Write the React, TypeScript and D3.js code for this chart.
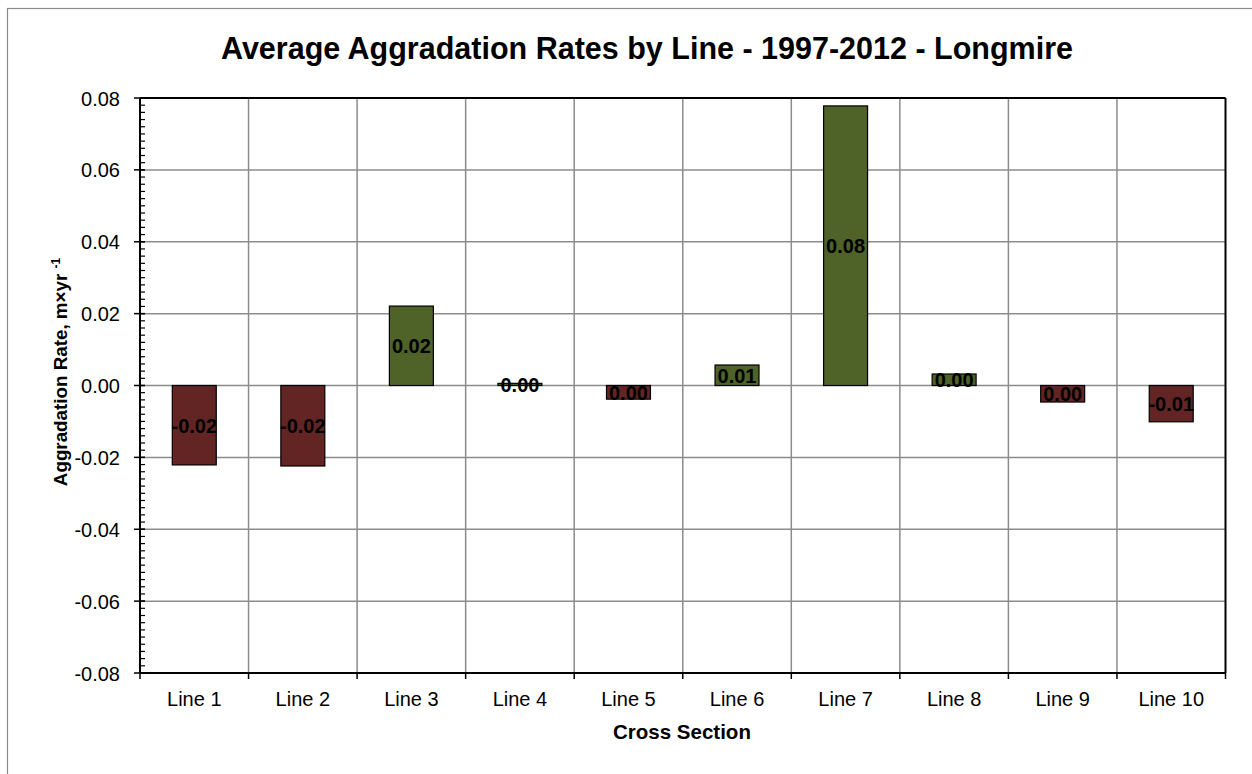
import React, { useEffect, useRef } from "react";
import * as d3 from "d3";

const categories = ["Line 1", "Line 2", "Line 3", "Line 4", "Line 5", "Line 6", "Line 7", "Line 8", "Line 9", "Line 10"];
const values = [-0.0221, -0.0224, 0.0221, 0.0006, -0.0038, 0.0057, 0.0778, 0.0032, -0.0046, -0.0101];
const valueLabels = ["-0.02", "-0.02", "0.02", "0.00", "0.00", "0.01", "0.08", "0.00", "0.00", "-0.01"];
const yTicks = [-0.08, -0.06, -0.04, -0.02, 0, 0.02, 0.04, 0.06, 0.08];

const W = 1252, H = 774;
const M = { left: 140, right: 1225.5, top: 98, bottom: 673 };
const RED = "#632523";
const GREEN = "#4F6228";
const FONT = "Liberation Sans, Arial, sans-serif";

export default function App() {
  const ref = useRef<SVGSVGElement>(null);
  useEffect(() => {
    const svg = d3.select(ref.current);
    svg.selectAll("*").remove();
    svg.append("rect").attr("width", W).attr("height", H).attr("fill", "#fff");
    svg.append("rect").attr("x", 7.5).attr("y", 8.5).attr("width", W + 20).attr("height", H + 20)
      .attr("fill", "none").attr("stroke", "#8a8a8a").attr("stroke-width", 1.2);

    const x = d3.scaleBand().domain(categories).range([M.left, M.right]).paddingInner(0).paddingOuter(0);
    const y = d3.scaleLinear().domain([-0.08, 0.08]).range([M.bottom, M.top]);

    // title
    svg.append("text").attr("x", 647).attr("y", 59).attr("text-anchor", "middle")
      .attr("font-family", FONT).attr("font-weight", "bold").attr("font-size", 30.5)
      .text("Average Aggradation Rates by Line - 1997-2012 - Longmire");

    // gridlines
    const g = svg.append("g");
    yTicks.forEach((t) => {
      g.append("line").attr("x1", M.left).attr("x2", M.right).attr("y1", y(t)).attr("y2", y(t))
        .attr("stroke", "#8c8c8c").attr("stroke-width", 1.5);
    });
    categories.forEach((c, i) => {
      if (i === 0) return;
      const xx = x(c)!;
      g.append("line").attr("x1", xx).attr("x2", xx).attr("y1", M.top).attr("y2", M.bottom)
        .attr("stroke", "#8c8c8c").attr("stroke-width", 1.5);
    });

    // bars
    categories.forEach((c, i) => {
      const v = values[i];
      const bw = x.bandwidth() * 0.405;
      const cx = x(c)! + x.bandwidth() / 2;
      const y0 = y(Math.max(0, v)), y1 = y(Math.min(0, v));
      svg.append("rect").attr("x", cx - bw / 2).attr("y", y0).attr("width", bw).attr("height", y1 - y0)
        .attr("fill", v >= 0 ? GREEN : RED).attr("stroke", "#000").attr("stroke-width", 1.2);
    });

    // frame / axes
    const frame = (x1: number, x2: number, y1: number, y2: number) =>
      svg.append("line").attr("x1", x1).attr("x2", x2).attr("y1", y1).attr("y2", y2)
        .attr("stroke", "#000").attr("stroke-width", 2);
    frame(M.left, M.right, M.top, M.top);
    frame(M.right, M.right, M.top, M.bottom);
    frame(M.left, M.right, M.bottom, M.bottom);
    frame(M.left, M.left, M.top, M.bottom);

    // y ticks
    const minor = d3.range(-0.08, 0.0801, 0.002);
    minor.forEach((t) => {
      svg.append("line").attr("x1", M.left).attr("x2", M.left + 5).attr("y1", y(t)).attr("y2", y(t))
        .attr("stroke", "#000").attr("stroke-width", 1.2);
    });
    yTicks.forEach((t) => {
      svg.append("line").attr("x1", M.left - 6).attr("x2", M.left + 5).attr("y1", y(t)).attr("y2", y(t))
        .attr("stroke", "#000").attr("stroke-width", 1.5);
      svg.append("text").attr("x", M.left - 20).attr("y", y(t) + 7.5).attr("text-anchor", "end")
        .attr("font-family", FONT).attr("font-size", 20).text(d3.format(".2f")(t).replace("−", "-"));
    });

    // x ticks
    categories.forEach((c, i) => {
      const xx = x(c)!;
      svg.append("line").attr("x1", xx).attr("x2", xx).attr("y1", M.bottom).attr("y2", M.bottom + 6)
        .attr("stroke", "#000").attr("stroke-width", 1.5);
      svg.append("text").attr("x", xx + x.bandwidth() / 2).attr("y", M.bottom + 33).attr("text-anchor", "middle")
        .attr("font-family", FONT).attr("font-size", 20).text(c);
    });
    svg.append("line").attr("x1", M.right).attr("x2", M.right).attr("y1", M.bottom).attr("y2", M.bottom + 6)
      .attr("stroke", "#000").attr("stroke-width", 1.5);

    // value labels
    categories.forEach((c, i) => {
      const v = values[i];
      const cx = x(c)! + x.bandwidth() / 2;
      const cy = (y(v) + y(0)) / 2;
      svg.append("text").attr("x", cx).attr("y", cy + 7.5).attr("text-anchor", "middle")
        .attr("font-family", FONT).attr("font-weight", "bold").attr("font-size", 20).text(valueLabels[i]);
    });

    // axis titles
    svg.append("text").attr("x", 682).attr("y", 739).attr("text-anchor", "middle")
      .attr("font-family", FONT).attr("font-weight", "bold").attr("font-size", 20.5).text("Cross Section");
    const yl = svg.append("text").attr("transform", `translate(67,372) rotate(-90)`)
      .attr("text-anchor", "middle").attr("font-family", FONT).attr("font-weight", "bold").attr("font-size", 18.8);
    yl.append("tspan").text("Aggradation Rate, m×yr ");
    yl.append("tspan").attr("font-size", 12).attr("dy", -7).text("-1");
  }, []);
  return <svg ref={ref} width={W} height={H} style={{ position: "absolute", left: 0, top: 0 }} />;
}
